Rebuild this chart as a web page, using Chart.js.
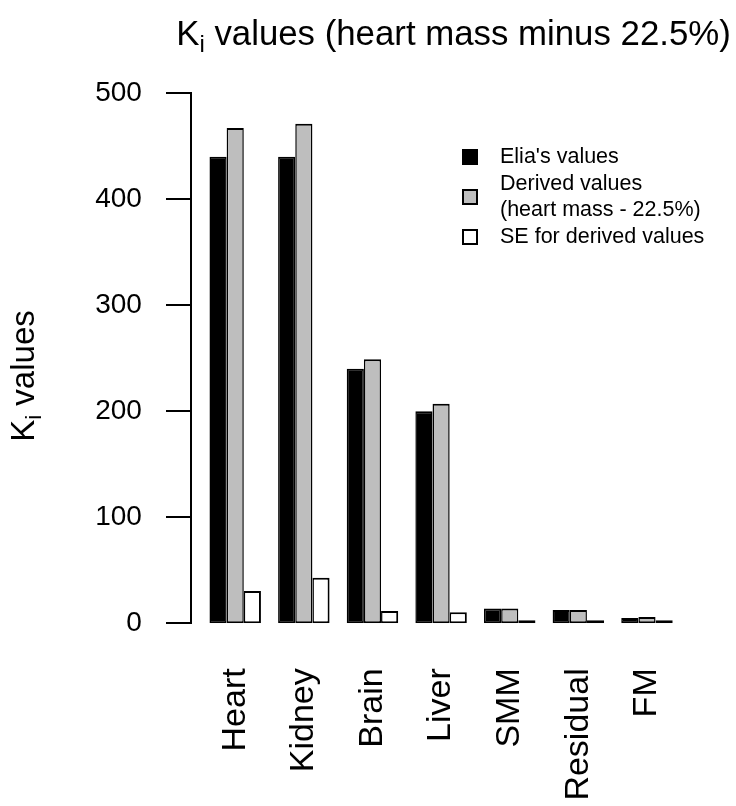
<!DOCTYPE html>
<html><head><meta charset="utf-8">
<script src="https://cdn.jsdelivr.net/npm/chart.js@4/dist/chart.umd.min.js"></script>
<style>html,body{margin:0;padding:0;background:#fff;}#wrap{width:736px;height:806px;}</style>
</head><body><div id="wrap"><canvas id="c" width="736" height="806"></canvas></div>
<script>
const categories = ['Heart', 'Kidney', 'Brain', 'Liver', 'SMM', 'Residual', 'FM'];
const eliaValues = [440, 440, 240, 200, 14, 12.5, 5];
const derivedValues = [467, 471, 249, 207, 14, 12.5, 6];
const seValues = [30.5, 43, 11.5, 10.5, 0.8, 0.8, 0.6];
const seriesLabels = [["Elia's values"], ["Derived values", "(heart mass - 22.5%)"], ["SE for derived values"]];
const seriesColors = ['#000000', '#bebebe', '#ffffff'];
const yTicks = [0, 100, 200, 300, 400, 500];
const titleParts = ['K', 'i', ' values (heart mass minus 22.5%)'];
const yTitleParts = ['K', 'i', ' values'];

const FONT = '"Liberation Sans", Arial, Helvetica, sans-serif';

function drawSubText(ctx, parts, x, y, size, subSize, subDrop, center) {
  ctx.font = size + 'px ' + FONT;
  const w0 = ctx.measureText(parts[0]).width;
  const w2 = ctx.measureText(parts[2]).width;
  ctx.font = subSize + 'px ' + FONT;
  const w1 = ctx.measureText(parts[1]).width;
  let sx = center ? x - (w0 + w1 + w2) / 2 : x;
  ctx.textAlign = 'left';
  ctx.textBaseline = 'alphabetic';
  ctx.fillStyle = '#000';
  ctx.font = size + 'px ' + FONT;
  ctx.fillText(parts[0], sx, y);
  ctx.font = subSize + 'px ' + FONT;
  ctx.fillText(parts[1], sx + w0, y + subDrop);
  ctx.font = size + 'px ' + FONT;
  ctx.fillText(parts[2], sx + w0 + w1, y);
}

const decorPlugin = {
  id: 'decor',
  afterDraw(chart) {
    const ctx = chart.ctx;
    ctx.save();
    drawSubText(ctx, titleParts, 453.5, 45, 34.8, 24, 7, true);
    ctx.save();
    ctx.translate(34, 376);
    ctx.rotate(-Math.PI / 2);
    drawSubText(ctx, yTitleParts, 0, 0, 33, 22, 7, true);
    ctx.restore();
    const legendRowsY = [157, 197, 237];
    const lineOffsets = [[0], [-12.5, 13], [0]];
    ctx.font = '21.5px ' + FONT;
    ctx.textBaseline = 'middle';
    ctx.textAlign = 'left';
    for (let i = 0; i < seriesLabels.length; i++) {
      const cy = legendRowsY[i];
      ctx.fillStyle = seriesColors[i];
      ctx.fillRect(463, cy - 7, 14, 14);
      ctx.strokeStyle = '#000';
      ctx.lineWidth = 2;
      ctx.strokeRect(463, cy - 7, 14, 14);
      ctx.fillStyle = '#000';
      seriesLabels[i].forEach((t, k) => ctx.fillText(t, 500, cy + lineOffsets[i][k]));
    }
    ctx.restore();
  }
};

new Chart(document.getElementById('c'), {
  type: 'bar',
  data: {
    labels: categories,
    datasets: [
      { label: seriesLabels[0].join(' '), data: eliaValues, backgroundColor: seriesColors[0], borderColor: '#000',
        borderWidth: { top: 2, bottom: 2, left: 1.5, right: 1.5 } },
      { label: seriesLabels[1].join(' '), data: derivedValues, backgroundColor: seriesColors[1], borderColor: '#000',
        borderWidth: { top: 2, bottom: 2, left: 1.5, right: 1.5 } },
      { label: seriesLabels[2].join(' '), data: seValues, backgroundColor: seriesColors[2], borderColor: '#000',
        borderWidth: { top: 2, bottom: 2, left: 1.5, right: 2 }, minBarLength: 3 }
    ]
  },
  options: {
    responsive: false,
    devicePixelRatio: 1,
    animation: false,
    layout: { padding: { left: 0, right: 45.1, top: 93, bottom: 0 } },
    datasets: { bar: { categoryPercentage: 0.75, barPercentage: 1, borderSkipped: false, inflateAmount: 0 } },
    plugins: { legend: { display: false }, title: { display: false }, tooltip: { enabled: false } },
    scales: {
      x: {
        type: 'category',
        offset: true,
        grid: { display: false, drawTicks: false },
        border: { display: false },
        ticks: {
          autoSkip: false, minRotation: 90, maxRotation: 90, padding: 45,
          color: '#000', font: { family: FONT, size: 34 }
        },
        afterFit(scale) { scale.height = 806 - 623.3; }
      },
      y: {
        position: 'left',
        min: 0, max: 500,
        afterBuildTicks(scale) { scale.ticks = yTicks.map(v => ({ value: v })); },
        afterFit(scale) { scale.width = 200.9; },
        grid: { display: false, drawTicks: false },
        border: { display: false },
        ticks: { color: '#000', padding: 59, font: { family: FONT, size: 28 } }
      },
      yAxisLine: {
        axis: 'y',
        type: 'linear',
        position: { x: -0.6486 },
        min: 0, max: 500,
        afterBuildTicks(scale) { scale.ticks = yTicks.map(v => ({ value: v })); },
        grid: { drawOnChartArea: false, drawTicks: true, tickLength: 24, color: '#000', lineWidth: 2 },
        border: { display: true, color: '#000', width: 2 },
        ticks: { display: false }
      }
    }
  },
  plugins: [decorPlugin]
});
</script>
</body></html>
